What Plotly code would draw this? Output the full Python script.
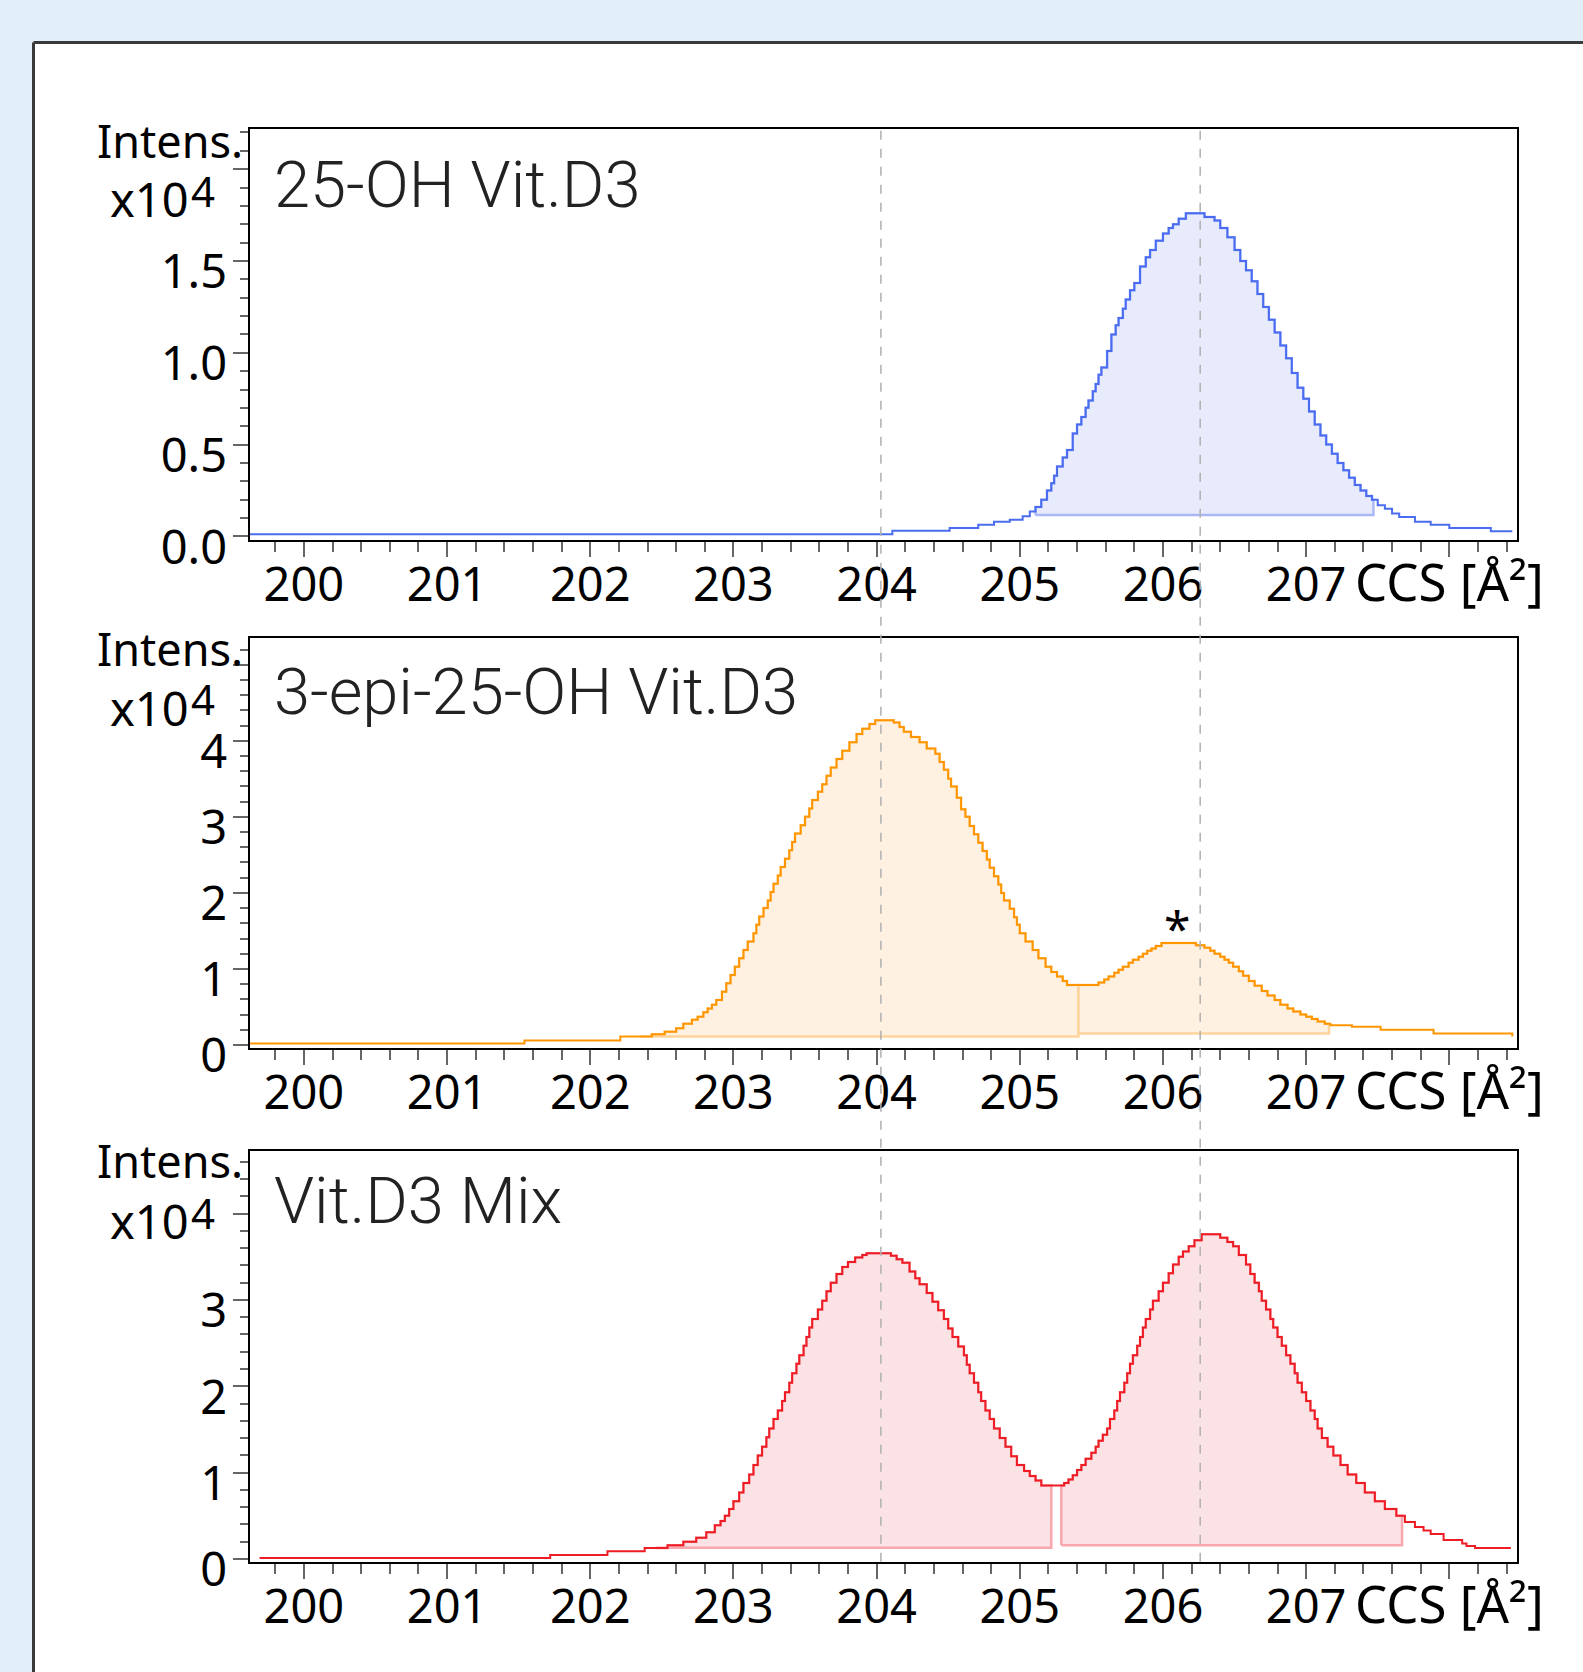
import plotly.graph_objects as go

W, H = 1583, 1672

# ---------------- data (intensity in units of 1e4) ----------------
titles = ["25-OH Vit.D3", "3-epi-25-OH Vit.D3", "Vit.D3 Mix"]

ccs_1 = [199.62, 204.11, 204.51, 204.71, 204.82, 204.93, 205.02, 205.07, 205.11, 205.15,
         205.19, 205.22, 205.24, 205.26, 205.30, 205.33, 205.37, 205.40, 205.43, 205.46,
         205.48, 205.51, 205.53, 205.55, 205.57, 205.61, 205.64, 205.67, 205.69, 205.72,
         205.74, 205.77, 205.80, 205.84, 205.88, 205.91, 205.95, 206.00, 206.04, 206.07,
         206.11, 206.16, 206.29, 206.36, 206.40, 206.45, 206.50, 206.54, 206.58, 206.62,
         206.66, 206.70, 206.74, 206.78, 206.82, 206.86, 206.90, 206.94, 206.98, 207.02,
         207.06, 207.10, 207.14, 207.18, 207.22, 207.26, 207.30, 207.34, 207.38, 207.42,
         207.46, 207.50, 207.55, 207.60, 207.65, 207.76, 207.87, 208.00, 208.29, 208.44]
int_1 = [0.012, 0.030, 0.046, 0.063, 0.080, 0.090, 0.110, 0.135, 0.160, 0.200,
         0.250, 0.290, 0.330, 0.380, 0.430, 0.470, 0.560, 0.610, 0.650, 0.700,
         0.740, 0.790, 0.830, 0.880, 0.920, 1.010, 1.100, 1.150, 1.190, 1.240,
         1.290, 1.340, 1.380, 1.470, 1.520, 1.560, 1.610, 1.650, 1.680, 1.700,
         1.730, 1.760, 1.740, 1.720, 1.680, 1.630, 1.560, 1.500, 1.450, 1.390,
         1.320, 1.250, 1.180, 1.110, 1.040, 0.970, 0.890, 0.810, 0.750, 0.680,
         0.610, 0.550, 0.500, 0.450, 0.400, 0.360, 0.320, 0.280, 0.250, 0.220,
         0.200, 0.170, 0.150, 0.125, 0.105, 0.080, 0.063, 0.046, 0.028, 0.028]

ccs_2 = [199.62, 201.54, 202.21, 202.43, 202.52, 202.60, 202.65, 202.71, 202.75, 202.79,
         202.82, 202.85, 202.88, 202.92, 202.95, 202.98, 203.01, 203.04, 203.07, 203.10,
         203.14, 203.16, 203.18, 203.21, 203.24, 203.26, 203.28, 203.31, 203.33, 203.36,
         203.39, 203.41, 203.43, 203.47, 203.50, 203.53, 203.55, 203.59, 203.62, 203.65,
         203.68, 203.72, 203.76, 203.81, 203.86, 203.90, 203.95, 203.99, 204.12, 204.16,
         204.19, 204.24, 204.30, 204.35, 204.41, 204.44, 204.47, 204.50, 204.52, 204.56,
         204.59, 204.62, 204.65, 204.68, 204.71, 204.74, 204.77, 204.79, 204.82, 204.85,
         204.87, 204.89, 204.93, 204.96, 204.98, 205.00, 205.04, 205.09, 205.13, 205.18,
         205.22, 205.26, 205.30, 205.33, 205.55, 205.59, 205.62, 205.66, 205.69, 205.72,
         205.76, 205.79, 205.83, 205.86, 205.89, 205.92, 205.95, 205.99, 206.23, 206.29,
         206.33, 206.36, 206.40, 206.43, 206.46, 206.49, 206.53, 206.56, 206.60, 206.64,
         206.69, 206.73, 206.78, 206.82, 206.87, 206.91, 206.96, 207.00, 207.04, 207.08,
         207.13, 207.17, 207.32, 207.52, 207.89, 208.44]
int_2 = [0.02, 0.06, 0.11, 0.14, 0.175, 0.22, 0.28, 0.33, 0.37, 0.43,
         0.48, 0.53, 0.59, 0.70, 0.81, 0.92, 1.03, 1.14, 1.25, 1.36,
         1.47, 1.58, 1.69, 1.80, 1.90, 2.01, 2.12, 2.23, 2.34, 2.45,
         2.56, 2.67, 2.78, 2.89, 3.00, 3.11, 3.22, 3.33, 3.43, 3.54,
         3.65, 3.76, 3.87, 3.98, 4.09, 4.16, 4.22, 4.27, 4.24, 4.18,
         4.12, 4.05, 3.98, 3.90, 3.83, 3.72, 3.62, 3.50, 3.40, 3.25,
         3.10, 3.00, 2.88, 2.77, 2.66, 2.55, 2.44, 2.33, 2.22, 2.11,
         2.00, 1.90, 1.79, 1.68, 1.58, 1.47, 1.36, 1.25, 1.14, 1.03,
         0.96, 0.90, 0.84, 0.79, 0.82, 0.86, 0.90, 0.95, 0.99, 1.03,
         1.08, 1.12, 1.16, 1.20, 1.24, 1.27, 1.30, 1.34, 1.31, 1.28,
         1.24, 1.20, 1.16, 1.12, 1.08, 1.03, 0.97, 0.91, 0.84, 0.78,
         0.71, 0.65, 0.59, 0.53, 0.48, 0.44, 0.40, 0.37, 0.34, 0.31,
         0.28, 0.26, 0.24, 0.20, 0.15, 0.11]

ccs_3 = [199.69, 201.72, 202.12, 202.38, 202.54, 202.65, 202.74, 202.81, 202.87, 202.91,
         202.94, 202.97, 203.00, 203.04, 203.07, 203.11, 203.14, 203.17, 203.20, 203.23,
         203.25, 203.28, 203.31, 203.34, 203.36, 203.39, 203.41, 203.44, 203.46, 203.49,
         203.51, 203.53, 203.55, 203.59, 203.62, 203.65, 203.68, 203.72, 203.76, 203.80,
         203.85, 203.90, 203.93, 204.10, 204.14, 204.18, 204.23, 204.27, 204.30, 204.35,
         204.39, 204.43, 204.47, 204.50, 204.53, 204.57, 204.61, 204.63, 204.65, 204.68,
         204.71, 204.73, 204.76, 204.79, 204.82, 204.86, 204.90, 204.94, 204.98, 205.03,
         205.07, 205.11, 205.15, 205.31, 205.34, 205.37, 205.40, 205.43, 205.46, 205.50,
         205.53, 205.55, 205.58, 205.61, 205.63, 205.66, 205.68, 205.70, 205.73, 205.75,
         205.77, 205.79, 205.82, 205.84, 205.86, 205.88, 205.91, 205.93, 205.97, 206.00,
         206.04, 206.07, 206.11, 206.14, 206.18, 206.22, 206.27, 206.40, 206.45, 206.49,
         206.53, 206.58, 206.61, 206.64, 206.67, 206.69, 206.72, 206.75, 206.77, 206.80,
         206.83, 206.86, 206.89, 206.92, 206.94, 206.97, 207.00, 207.03, 207.06, 207.08,
         207.11, 207.15, 207.19, 207.24, 207.29, 207.35, 207.41, 207.48, 207.55, 207.63,
         207.69, 207.76, 207.82, 207.87, 207.96, 208.09, 208.12, 208.18, 208.43]
int_3 = [0.013, 0.046, 0.089, 0.127, 0.16, 0.20, 0.245, 0.31, 0.39, 0.44,
         0.50, 0.58, 0.67, 0.77, 0.88, 0.98, 1.09, 1.20, 1.30, 1.41,
         1.51, 1.62, 1.72, 1.83, 1.93, 2.04, 2.15, 2.26, 2.36, 2.47,
         2.57, 2.68, 2.78, 2.89, 2.99, 3.10, 3.20, 3.30, 3.38, 3.44,
         3.49, 3.52, 3.54, 3.51, 3.47, 3.43, 3.33, 3.25, 3.18, 3.08,
         2.98, 2.88, 2.78, 2.67, 2.57, 2.46, 2.36, 2.25, 2.15, 2.04,
         1.93, 1.83, 1.72, 1.62, 1.51, 1.40, 1.30, 1.19, 1.09, 1.02,
         0.96, 0.91, 0.85, 0.88, 0.92, 0.97, 1.03, 1.09, 1.16, 1.23,
         1.30, 1.37, 1.44, 1.51, 1.62, 1.72, 1.83, 1.93, 2.04, 2.15,
         2.26, 2.36, 2.47, 2.57, 2.68, 2.78, 2.89, 2.99, 3.10, 3.20,
         3.31, 3.41, 3.50, 3.56, 3.62, 3.69, 3.76, 3.72, 3.67, 3.62,
         3.52, 3.41, 3.30, 3.20, 3.10, 2.99, 2.89, 2.78, 2.68, 2.57,
         2.47, 2.36, 2.26, 2.15, 2.04, 1.93, 1.83, 1.72, 1.62, 1.51,
         1.40, 1.30, 1.20, 1.09, 0.98, 0.88, 0.77, 0.67, 0.58, 0.50,
         0.43, 0.37, 0.33, 0.29, 0.22, 0.18, 0.15, 0.127, 0.127]

# integration regions: (start, end, baseline)
regions_1 = [(205.11, 207.47, 0.117)]
regions_2 = [(202.35, 205.41, 0.11), (205.41, 207.16, 0.15)]
regions_3 = [(202.46, 205.22, 0.13), (205.29, 207.67, 0.16)]

ref_lines = [204.03, 206.26]
star_pos = (206.10, 1.54)

x_tick_vals = [200, 201, 202, 203, 204, 205, 206, 207, 208]
x_tick_text = ["200", "201", "202", "203", "204", "205", "206", "207",
               "<span style='font-size:51px'>CCS [Å²]</span>"]

y_ticks = [
    ([0, 0.5, 1.0, 1.5, 2.0], ["0.0", "0.5", "1.0", "1.5", ""], 0.1, [-0.017, 2.219]),
    ([0, 1, 2, 3, 4, 5], ["0", "1", "2", "3", "4", ""], 0.2, [-0.04, 5.356]),
    ([0, 1, 2, 3, 4], ["0", "1", "2", "3", ""], 0.2, [-0.031, 4.724]),
]

line_colors = ["#4a6cf0", "#ff9600", "#ee1c25"]
fill_colors = ["#e8ebfb", "#fef1e1", "#fbe2e4"]
base_colors = ["#aab8f8", "#ffd49c", "#f7a7ad"]

# ---------------- layout geometry (pixels) ----------------
box_left, box_right = 249.5, 1516.6
panels_px = [(129, 539.5), (637.7, 1048), (1151, 1561.7)]
title_y = [184.5, 691.5, 1200.5]
intens_dy = [11, 11, 9]


def px(x):
    return x / W


def py(y):
    return 1 - y / H


fig = go.Figure()

series = [(ccs_1, int_1, regions_1), (ccs_2, int_2, regions_2), (ccs_3, int_3, regions_3)]

for i, (xs, ys, regs) in enumerate(series):
    xa = "x" if i == 0 else f"x{i+1}"
    ya = "y" if i == 0 else f"y{i+1}"
    # integration fills
    for (x0, x1, base) in regs:
        y0 = ys[0]
        for xv, yv in zip(xs, ys):
            if xv <= x0:
                y0 = yv
        px_list = [x0, x0]
        py_list = [base, y0]
        ylast = y0
        for xv, yv in zip(xs, ys):
            if x0 < xv < x1:
                px_list.append(xv)
                py_list.append(yv)
                ylast = yv
        px_list += [x1, x1, x0]
        py_list += [ylast, base, base]
        fig.add_trace(go.Scatter(
            x=px_list, y=py_list, mode="lines", fill="toself",
            fillcolor=fill_colors[i], line=dict(color=base_colors[i], width=2.5, shape="hv"),
            xaxis=xa, yaxis=ya, hoverinfo="skip", showlegend=False))
    fig.add_trace(go.Scatter(
        x=xs, y=ys, mode="lines", line=dict(color=line_colors[i], width=2, shape="hv"),
        xaxis=xa, yaxis=ya, showlegend=False))

layout = dict(
    width=W, height=H, autosize=False,
    margin=dict(l=0, r=0, t=0, b=0, pad=0, autoexpand=False),
    paper_bgcolor="#e2eff8",
    plot_bgcolor="white",
    showlegend=False,
)

for i, (top, bot) in enumerate(panels_px):
    sx = "" if i == 0 else str(i + 1)
    tv, tt, mdt, yr = y_ticks[i]
    layout[f"xaxis{sx}"] = dict(
        domain=[px(box_left), px(box_right)], range=[199.62, 208.47],
        anchor=f"y{sx}", showline=True, linecolor="black", linewidth=2, mirror=True,
        ticks="outside", ticklen=15, tickwidth=2, tickcolor="#666666",
        tickmode="array", tickvals=x_tick_vals, ticktext=x_tick_text,
        tickfont=dict(family="Noto Sans", size=47, color="black"),
        ticklabelstandoff=-12, automargin=False,
        minor=dict(ticks="outside", ticklen=10, tickwidth=2, tickcolor="#666666",
                   tick0=200, dtick=0.2),
        showgrid=False, zeroline=False, fixedrange=True,
    )
    layout[f"yaxis{sx}"] = dict(
        domain=[py(bot), py(top)], range=yr,
        anchor=f"x{sx}", showline=True, linecolor="black", linewidth=2, mirror=True,
        ticks="outside", ticklen=15, tickwidth=2, tickcolor="#666666",
        tickmode="array", tickvals=tv, ticktext=tt,
        tickfont=dict(family="Noto Sans", size=47, color="black"),
        ticklabelshift=11, ticklabelstandoff=-4, automargin=False,
        minor=dict(ticks="outside", ticklen=8, tickwidth=2, tickcolor="#666666",
                   tick0=0, dtick=mdt),
        showgrid=False, zeroline=False, fixedrange=True,
    )

fig.update_layout(**layout)

# white card with a dark frame on its top and left edges (kept inside the page)
fx, fy = 33.5, 42.5
shapes = [
    dict(type="rect", xref="paper", yref="paper", x0=px(fx), x1=1, y0=0, y1=py(fy),
         fillcolor="white", line=dict(width=0), layer="below"),
    dict(type="line", xref="paper", yref="paper", x0=px(fx), x1=1, y0=py(fy), y1=py(fy),
         line=dict(color="#3a3a3a", width=3), layer="below"),
    dict(type="line", xref="paper", yref="paper", x0=px(fx), x1=px(fx), y0=0, y1=py(fy),
         line=dict(color="#3a3a3a", width=3), layer="below"),
]
for xv in ref_lines:
    shapes.append(dict(type="line", xref="x", yref="paper", x0=xv, x1=xv,
                       y0=py(panels_px[2][1]), y1=py(panels_px[0][0]),
                       line=dict(color="#b0b0b0", width=1.5, dash="dash"), layer="above"))
fig.update_layout(shapes=shapes)

ann = []
for i, (top, bot) in enumerate(panels_px):
    ann.append(dict(text=titles[i], xref="paper", yref="paper", x=px(272), y=py(title_y[i]),
                    xanchor="left", yanchor="middle", showarrow=False,
                    font=dict(family="Roboto", size=65, color="#222222", weight=300)))
    ann.append(dict(text="Intens.", xref="paper", yref="paper", x=px(244), y=py(top + intens_dy[i]),
                    xanchor="right", yanchor="middle", showarrow=False, borderpad=0,
                    font=dict(family="Noto Sans", size=45, color="black")))
    ann.append(dict(text="x10", xref="paper", yref="paper", x=px(190), y=py(top + 70),
                    xanchor="right", yanchor="middle", showarrow=False, borderpad=0,
                    font=dict(family="Noto Sans", size=47, color="black")))
    ann.append(dict(text="4", xref="paper", yref="paper", x=px(190), y=py(top + 61),
                    xanchor="left", yanchor="middle", showarrow=False, borderpad=0,
                    font=dict(family="Noto Sans", size=42, color="black")))

ann.append(dict(text="*", xref="x2", yref="y2", x=star_pos[0], y=star_pos[1],
                xanchor="center", yanchor="middle", showarrow=False,
                font=dict(family="Noto Sans", size=48, color="black")))
fig.update_layout(annotations=ann)

fig.write_html("out.html", config={"displayModeBar": False},
               post_script="document.body.style.margin='0px';")
